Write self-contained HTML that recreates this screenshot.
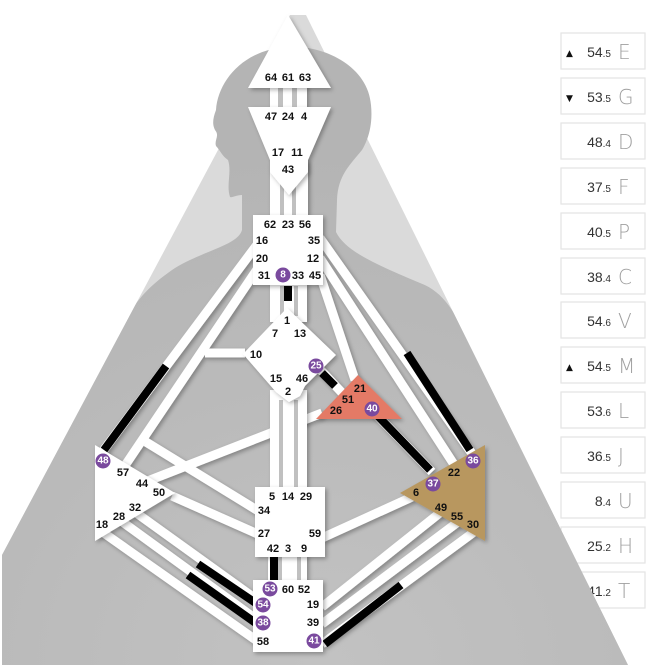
<!DOCTYPE html>
<html><head><meta charset="utf-8"><style>
html,body{margin:0;padding:0;background:#fff;width:655px;height:665px;overflow:hidden;}
svg{display:block;}
.g{font-family:"Liberation Sans",sans-serif;font-weight:bold;font-size:11px;fill:#111;text-anchor:middle;dominant-baseline:central;}
.c{font-family:"Liberation Sans",sans-serif;font-weight:bold;font-size:10px;fill:#fff;text-anchor:middle;dominant-baseline:central;}
.n{font-family:"Liberation Sans",sans-serif;font-size:14px;fill:#333;text-anchor:end;}
.n tspan.s{font-size:10px;}
.l{font-family:"DejaVu Sans","Liberation Sans",sans-serif;font-weight:200;font-size:20px;fill:#a0a0a0;}
.a{font-family:"DejaVu Sans",sans-serif;font-size:9px;fill:#111;}
</style></head><body>
<svg width="655" height="665" viewBox="0 0 655 665" xmlns="http://www.w3.org/2000/svg">
<defs>
<filter id="sh" x="-20%" y="-20%" width="140%" height="140%"><feDropShadow dx="2" dy="2" stdDeviation="2" flood-color="#000" flood-opacity="0.3"/></filter>
<radialGradient id="rg" cx="0.5" cy="0.95" r="0.8"><stop offset="0" stop-color="#c2c2c2"/><stop offset="1" stop-color="#b4b4b4"/></radialGradient>
<clipPath id="tri"><polygon points="290,15 2,555 2,665 628,665 306,15"/><rect x="180" y="0" width="220" height="240"/></clipPath>
</defs>

<!-- panel -->
<g>
<g fill="#fff" stroke="#e3e3e3" stroke-width="1.2">
<rect x="561" y="33" width="84" height="36"/>
<rect x="561" y="78" width="84" height="36"/>
<rect x="561" y="123" width="84" height="36"/>
<rect x="561" y="168" width="84" height="36"/>
<rect x="561" y="213" width="84" height="36"/>
<rect x="561" y="258" width="84" height="36"/>
<rect x="561" y="302" width="84" height="36"/>
<rect x="561" y="347" width="84" height="36"/>
<rect x="561" y="392" width="84" height="36"/>
<rect x="561" y="437" width="84" height="36"/>
<rect x="561" y="482" width="84" height="36"/>
<rect x="561" y="527" width="84" height="36"/>
<rect x="561" y="572" width="84" height="36"/>
</g>
<text class="a" x="566" y="56">▲</text>
<text class="a" x="566" y="101">▼</text>
<text class="a" x="566" y="370">▲</text>
<text class="n" x="611" y="57">54<tspan class="s">.5</tspan></text><text class="l" x="618" y="59">E</text>
<text class="n" x="611" y="102">53<tspan class="s">.5</tspan></text><text class="l" x="618" y="104">G</text>
<text class="n" x="611" y="147">48<tspan class="s">.4</tspan></text><text class="l" x="618" y="149">D</text>
<text class="n" x="611" y="192">37<tspan class="s">.5</tspan></text><text class="l" x="618" y="194">F</text>
<text class="n" x="611" y="237">40<tspan class="s">.5</tspan></text><text class="l" x="618" y="239">P</text>
<text class="n" x="611" y="282">38<tspan class="s">.4</tspan></text><text class="l" x="618" y="284">C</text>
<text class="n" x="611" y="326">54<tspan class="s">.6</tspan></text><text class="l" x="618" y="328">V</text>
<text class="n" x="611" y="371">54<tspan class="s">.5</tspan></text><text class="l" x="618" y="373">M</text>
<text class="n" x="611" y="416">53<tspan class="s">.6</tspan></text><text class="l" x="618" y="418">L</text>
<text class="n" x="611" y="461">36<tspan class="s">.5</tspan></text><text class="l" x="618" y="463">J</text>
<text class="n" x="611" y="506">8<tspan class="s">.4</tspan></text><text class="l" x="618" y="508">U</text>
<text class="n" x="611" y="551">25<tspan class="s">.2</tspan></text><text class="l" x="618" y="553">H</text>
<text class="n" x="611" y="596">41<tspan class="s">.2</tspan></text><text class="l" x="618" y="598">T</text>
</g>

<!-- background -->
<polygon points="290,15 2,555 2,665 628,665 306,15" fill="#dadada"/>
<g clip-path="url(#tri)">
<path d="M290,47 C322,45 368,65 371,105 C373,125 368,140 362,150 C350,165 338,175 337,200 L336,232 C345,250 370,262 420,283 C445,292 455,315 470,340 L700,700 L-50,700 L-50,500 L120,330 C135,300 150,285 175,268 C205,250 238,245 242,230 L242,195 C236,195 232,198 230,197 C226,185 232,172 228,160 C222,156 220,150 216,146 C214,140 220,136 215,130 C212,124 213,118 216,110 C218,80 245,48 290,47 Z" fill="url(#rg)"/>
</g>

<!-- channels white -->
<g stroke="#fff" stroke-width="9" fill="none" filter="url(#sh)">
<line x1="262" y1="238" x2="100" y2="455"/>
<line x1="262" y1="262" x2="122" y2="470"/>
<line x1="245" y1="353" x2="205" y2="353"/>
<line x1="146" y1="442" x2="260" y2="512"/>
<line x1="172" y1="496" x2="260" y2="535"/>
<line x1="140" y1="484" x2="322" y2="413"/>
<line x1="128" y1="507" x2="260" y2="602"/>
<line x1="117" y1="518" x2="260" y2="622"/>
<line x1="101" y1="531" x2="260" y2="643"/>
<line x1="320" y1="238" x2="473" y2="455"/>
<line x1="320" y1="258" x2="455" y2="466"/>
<line x1="320" y1="275" x2="355" y2="380"/>
<line x1="316" y1="365" x2="345" y2="396"/>
<line x1="372" y1="410" x2="432" y2="472"/>
<line x1="412" y1="497" x2="322" y2="538"/>
<line x1="441" y1="512" x2="322" y2="607"/>
<line x1="458" y1="522" x2="322" y2="624"/>
<line x1="474" y1="532" x2="322" y2="644"/>
</g>
<!-- black segments -->
<g stroke="#000" stroke-width="8" fill="none">
<line x1="166" y1="366" x2="104" y2="450"/>
<line x1="198" y1="564" x2="257" y2="604"/>
<line x1="188" y1="575" x2="257" y2="624"/>
<line x1="407" y1="353" x2="470" y2="450"/>
<line x1="322" y1="373" x2="335" y2="386"/>
<line x1="372" y1="410" x2="430" y2="470"/>
<line x1="401" y1="585" x2="325" y2="644"/>
</g>

<!-- vertical channel strips -->
<g filter="url(#sh)">
<rect x="270" y="85" width="37" height="25" fill="#fff"/>
<rect x="270" y="160" width="38" height="60" fill="#fff"/>
<rect x="270" y="282" width="37" height="40" fill="#fff"/>
<rect x="270" y="390" width="37" height="100" fill="#fff"/>
<rect x="268" y="554" width="39" height="30" fill="#fff"/>
</g>
<g fill="#c0c0c0">
<rect x="278" y="88" width="5" height="20"/><rect x="292" y="88" width="5" height="20"/>
<polygon points="280,172 289,183 296,172 296,218 292,218 292,186 289,190 284,186 284,218 280,218"/>
<rect x="280" y="286" width="4" height="30"/><rect x="294" y="286" width="4" height="30"/>
<rect x="279" y="400" width="4" height="88"/><rect x="294" y="400" width="4" height="88"/>
<rect x="278" y="557" width="4" height="24"/><rect x="297" y="557" width="4" height="24"/>
</g>
<rect x="284" y="286" width="8" height="15" fill="#000"/>
<rect x="270" y="557" width="8" height="24" fill="#000"/>

<!-- centers -->
<g filter="url(#sh)">
<polygon points="288,15 248,88 331,88" fill="#fff"/>
<polygon points="248,107 331,107 308,160 308,172 289,195 270,172 270,160" fill="#fff"/>
<rect x="253" y="215" width="70" height="70" fill="#fff"/>
<polygon points="287,308 336,355 305,386 300,396 289,402 276,392 243,354" fill="#fff"/>
<polygon points="358,375 316,419 402,419" fill="#e47a66"/>
<polygon points="95,445 175,493 95,541" fill="#fff"/>
<polygon points="485,445 400,493 485,541" fill="#b8975e"/>
<rect x="255" y="487" width="70" height="70" fill="#fff"/>
<rect x="253" y="580" width="70" height="72" fill="#fff"/>
</g>

<!-- gate labels -->
<g>
<text x="271" y="78" class="g">64</text><text x="288" y="78" class="g">61</text><text x="305" y="78" class="g">63</text>
<text x="271" y="117" class="g">47</text><text x="288" y="117" class="g">24</text><text x="304" y="117" class="g">4</text>
<text x="278" y="153" class="g">17</text><text x="297" y="153" class="g">11</text>
<text x="288" y="170" class="g">43</text>
<text x="270" y="225" class="g">62</text><text x="288" y="225" class="g">23</text><text x="305" y="225" class="g">56</text>
<text x="262" y="241" class="g">16</text><text x="314" y="241" class="g">35</text>
<text x="262" y="259" class="g">20</text><text x="313" y="259" class="g">12</text>
<text x="264" y="276" class="g">31</text><text x="298" y="276" class="g">33</text><text x="315" y="276" class="g">45</text>
<text x="287" y="321" class="g">1</text>
<text x="275" y="334" class="g">7</text><text x="300" y="334" class="g">13</text>
<text x="256" y="355" class="g">10</text>
<text x="276" y="379" class="g">15</text><text x="302" y="379" class="g">46</text>
<text x="288" y="392" class="g">2</text>
<text x="360" y="389" class="g">21</text><text x="348" y="400" class="g">51</text><text x="336" y="411" class="g">26</text>
<text x="123" y="473" class="g">57</text><text x="142" y="484" class="g">44</text><text x="159" y="493" class="g">50</text>
<text x="135" y="508" class="g">32</text><text x="119" y="517" class="g">28</text><text x="102" y="525" class="g">18</text>
<text x="272" y="497" class="g">5</text><text x="288" y="497" class="g">14</text><text x="306" y="497" class="g">29</text>
<text x="264" y="511" class="g">34</text>
<text x="264" y="534" class="g">27</text><text x="315" y="534" class="g">59</text>
<text x="273" y="549" class="g">42</text><text x="288" y="549" class="g">3</text><text x="304" y="549" class="g">9</text>
<text x="454" y="473" class="g">22</text><text x="416" y="493" class="g">6</text>
<text x="441" y="508" class="g">49</text><text x="457" y="517" class="g">55</text><text x="473" y="525" class="g">30</text>
<text x="288" y="590" class="g">60</text><text x="304" y="590" class="g">52</text>
<text x="313" y="605" class="g">19</text><text x="313" y="623" class="g">39</text>
<text x="263" y="642" class="g">58</text>
</g>
<g fill="#7a4a9e">
<circle cx="283" cy="275" r="7.5"/><circle cx="316" cy="366" r="7.5"/><circle cx="372" cy="409" r="7.5"/>
<circle cx="103" cy="461" r="7.5"/><circle cx="473" cy="461" r="7.5"/><circle cx="433" cy="484" r="7.5"/>
<circle cx="270" cy="589" r="7.5"/><circle cx="263" cy="605" r="7.5"/><circle cx="263" cy="623" r="7.5"/><circle cx="314" cy="641" r="7.5"/>
</g>
<text x="283" y="275" class="c">8</text><text x="316" y="366" class="c">25</text><text x="372" y="409" class="c">40</text>
<text x="103" y="461" class="c">48</text><text x="473" y="461" class="c">36</text><text x="433" y="484" class="c">37</text>
<text x="270" y="589" class="c">53</text><text x="263" y="605" class="c">54</text><text x="263" y="623" class="c">38</text><text x="314" y="641" class="c">41</text>
</svg>
</body></html>
